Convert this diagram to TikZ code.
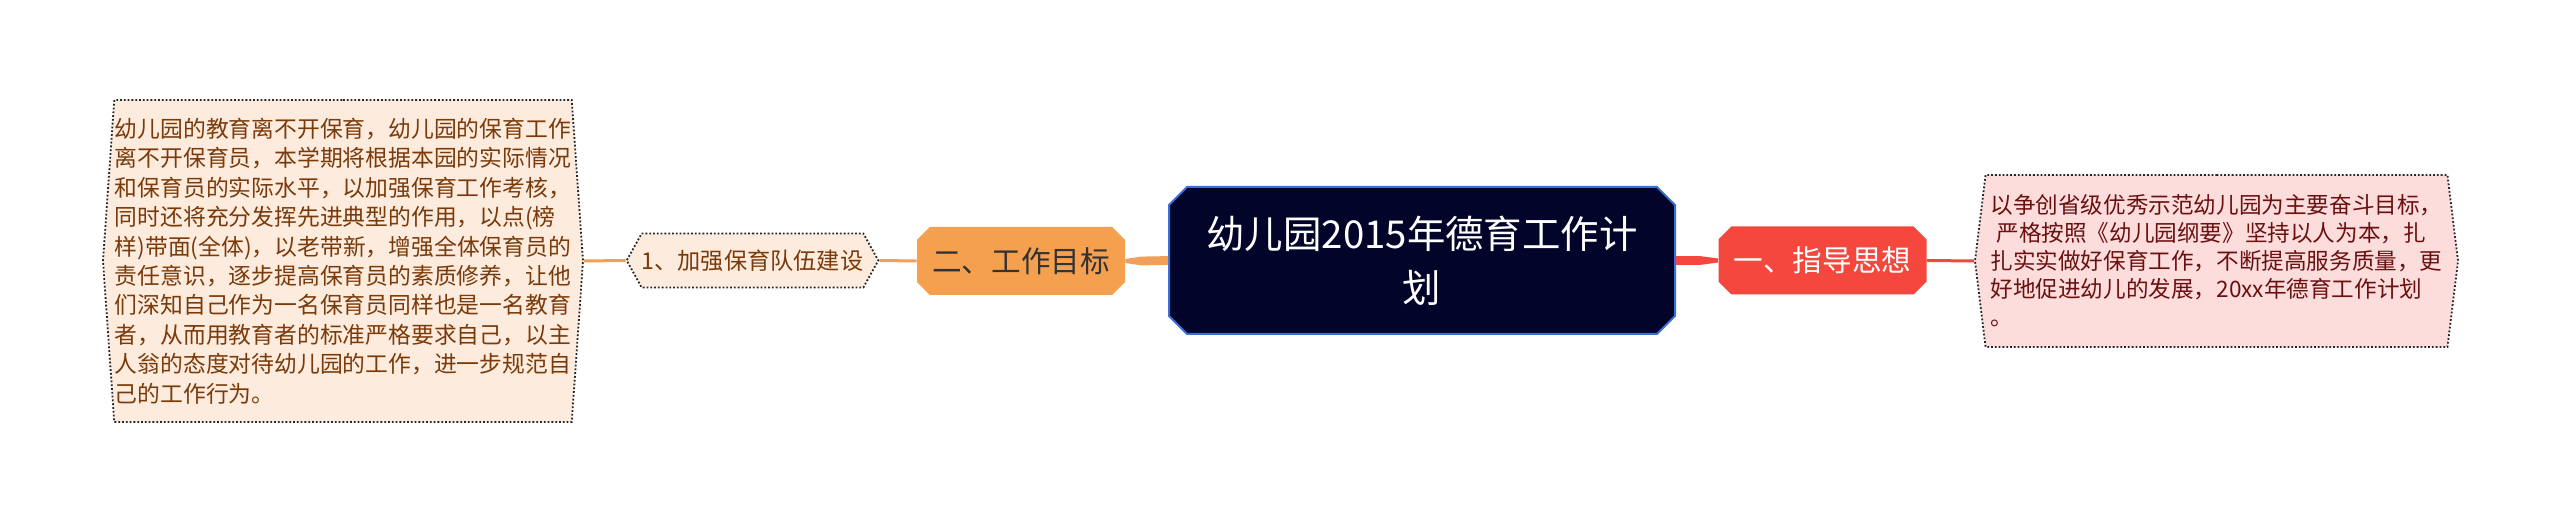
\documentclass[tikz,border=0pt]{standalone}
\usepackage{fontspec}
\setmainfont{Noto Sans CJK SC}
\usetikzlibrary{shapes.misc,shapes.symbols}
\definecolor{rootfill}{HTML}{02042A}
\definecolor{rootline}{HTML}{3B6FD6}
\definecolor{orangeline}{HTML}{F0A05A}
\definecolor{orangefill}{HTML}{F5A04E}
\definecolor{peachfill}{HTML}{FDEBDD}
\definecolor{browntext}{HTML}{7A3A0A}
\definecolor{redfill}{HTML}{F4473D}
\definecolor{pinkfill}{HTML}{FDDCDC}
\definecolor{redtext}{HTML}{6A1010}
\begin{document}
\begin{tikzpicture}[x=0.5pt,y=-0.5pt,
        textbox/.style={signal, signal to=east and west, draw=black!85, densely dotted, line width=0.9pt, inner sep=0pt, align=left},
        topic/.style={chamfered rectangle, chamfered rectangle sep=3.2pt, inner sep=0pt, minimum width=104pt, minimum height=34pt, font=\fontsize{14.8pt}{18pt}\selectfont},
        link/.style={line width=1.5pt}]
        \useasboundingbox (0,0) rectangle (2560,522);
        \node[topic, fill=rootfill, draw=rootline, line width=1pt, chamfered rectangle sep=4.5pt, minimum width=253pt, minimum height=73.5pt, text=white, align=center, font=\fontsize{19.2pt}{27pt}\selectfont] (root) at (1422,260.5) {幼儿园2015年德育工作计\\划};
        \node[topic, fill=orangefill, text=black!80] (goal) at (1021,261) {二、工作目标};
        \node[topic, fill=redfill, text=white] (guide) at (1822.5,260.5) {一、指导思想};
        \node[textbox, fill=peachfill, text=browntext, signal pointer angle=122, minimum width=120.5pt, minimum height=27pt, font=\fontsize{11.6pt}{14pt}\selectfont] (team) at (752.5,260.5) {1、加强保育队伍建设};
        \node[textbox, fill=peachfill, text=browntext, signal pointer angle=172, minimum width=240pt, minimum height=161pt, font=\fontsize{11.4pt}{14.7pt}\selectfont] (teamtext) at (343,261) {幼儿园的教育离不开保育，幼儿园的保育工作\\离不开保育员，本学期将根据本园的实际情况\\和保育员的实际水平，以加强保育工作考核，\\同时还将充分发挥先进典型的作用，以点(榜\\样)带面(全体)，以老带新，增强全体保育员的\\责任意识，逐步提高保育员的素质修养，让他\\们深知自己作为一名保育员同样也是一名教育\\者，从而用教育者的标准严格要求自己，以主\\人翁的态度对待幼儿园的工作，进一步规范自\\己的工作行为。};
        \node[textbox, fill=pinkfill, text=redtext, signal pointer angle=166, minimum width=241.5pt, minimum height=86pt, font=\fontsize{11.3pt}{14pt}\selectfont] (guidetext) at (2216.5,261) {以争创省级优秀示范幼儿园为主要奋斗目标，\\\hspace*{3pt}严格按照《幼儿园纲要》坚持以人为本，扎\\扎实实做好保育工作，不断提高服务质量，更\\好地促进幼儿的发展，20xx年德育工作计划\\。};
        \draw[link, orangeline] (teamtext.east) -- (team.west);
        \draw[link, orangeline] (team.east) -- (goal.west);
        \draw[link, redfill] (guide.east) -- (guidetext.west);
        \fill[orangeline] ([yshift=2.2pt]root.west) -- ([xshift=8pt,yshift=2.2pt]goal.east) -- ([yshift=1pt]goal.east) -- ([yshift=-1pt]goal.east) -- ([xshift=8pt,yshift=-2.2pt]goal.east) -- ([yshift=-2.2pt]root.west) -- cycle;
        \fill[redfill] ([yshift=2.2pt]root.east) -- ([xshift=-9pt,yshift=2.2pt]guide.west) -- ([yshift=1pt]guide.west) -- ([yshift=-1pt]guide.west) -- ([xshift=-9pt,yshift=-2.2pt]guide.west) -- ([yshift=-2.2pt]root.east) -- cycle;
    \end{tikzpicture}
\end{document}
